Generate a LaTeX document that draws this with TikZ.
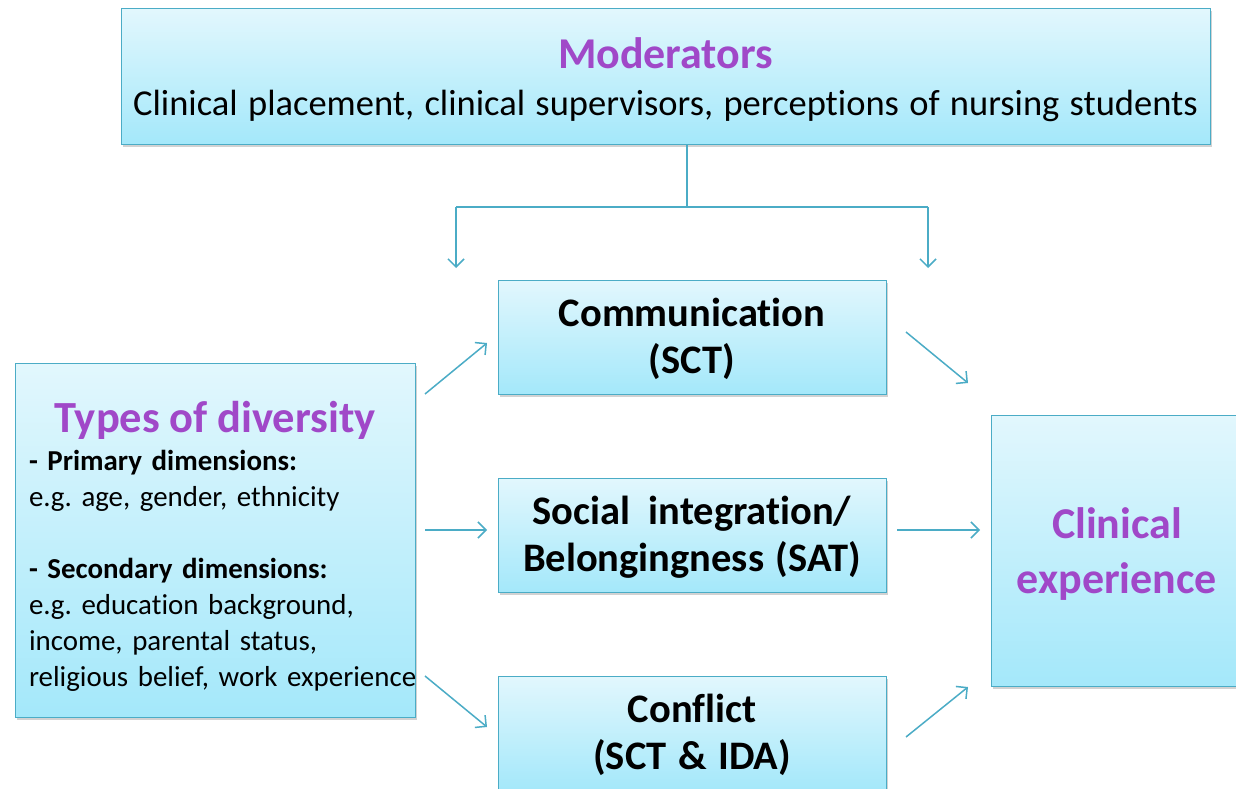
\documentclass[tikz,border=0pt]{standalone}
\usepackage{fontspec}
\setmainfont{Carlito}[WordSpace=1.25,Ligatures=NoCommon]
\usetikzlibrary{arrows.meta,shadows}

\definecolor{boxedge}{RGB}{75,172,198}
\definecolor{boxtop}{RGB}{226,247,253}
\definecolor{boxbottom}{RGB}{164,232,250}
\definecolor{purp}{RGB}{160,72,200}

\tikzset{
  panel/.style={draw=boxedge, line width=1pt, top color=boxtop, bottom color=boxbottom,
    drop shadow={shadow xshift=2pt, shadow yshift=-2.5pt, opacity=0.35},
    inner sep=0pt, align=center},
  midbox/.style={panel, minimum width=388pt, minimum height=114pt, text depth=3pt,
    font=\fontsize{40.5}{47}\selectfont\bfseries},
  link/.style={draw=boxedge, line width=1.5pt, -{Straight Barb[length=8pt,width=16pt]}}
}

\begin{document}
\frenchspacing
\begin{tikzpicture}[x=1pt,y=-1pt]
        \useasboundingbox (0,0) rectangle (1236,789);
        \fill[white] (0,0) rectangle (1236,789);
        % boxes
        \node[panel, minimum width=1089pt, minimum height=135pt, text depth=-4pt,
              font=\fontsize{36.5}{47}\selectfont] (mod) at (665.5,76.5)
          {{\fontsize{44}{47}\selectfont\bfseries\color{purp}Moderators}\\
           Clinical placement, clinical supervisors, perceptions of nursing students};
        \node[panel, minimum width=399pt, minimum height=354pt, inner xsep=14pt, text width=372pt,
              align=left, font=\fontsize{28.9}{36}\selectfont] (types) at (215,540)
          {\makebox[372pt][c]{\rule{0pt}{44pt}\fontsize{44.5}{47}\selectfont\bfseries\color{purp}Types of diversity}\\[2.5pt]
           \textbf{- Primary dimensions:}\\
           e.g. age, gender, ethnicity\\[36pt]
           \textbf{- Secondary dimensions:}\\
           e.g. education background,\\
           income, parental status,\\
           \mbox{religious belief, work experience}};
        \node[midbox] (comm) at (692,337) {Communication\\(SCT)};
        \node[midbox] (soc) at (692,535) {Social\, integration/\\Belongingness (SAT)};
        \node[midbox] (conf) at (692,733) {Conflict\\(SCT \& IDA)};
        \node[panel, minimum width=252pt, minimum height=271pt, text depth=0pt,
              font=\fontsize{44}{55}\selectfont\bfseries\color{purp}] (clin) at (1117,550.5)
          {Clinical\\experience};
        % moderator links
        \coordinate (split) at (687,207);
        \coordinate (left) at (456,207);
        \coordinate (right) at (928,207);
        \coordinate (lefttip) at (456,268);
        \coordinate (righttip) at (928,268);
        \draw[draw=boxedge, line width=1.5pt] (mod.south -| split) -- (split);
        \draw[draw=boxedge, line width=1.5pt] (left) -- (right);
        \draw[link] (left) -- (lefttip);
        \draw[link] (right) -- (righttip);
        % types to mediators
        \coordinate (a1) at (425,394);
        \coordinate (b1) at (487,343);
        \coordinate (a2) at (425,530);
        \coordinate (b2) at (487,530);
        \coordinate (a3) at (425,676);
        \coordinate (b3) at (487,727);
        \draw[link] (a1) -- (b1);
        \draw[link] (a2) -- (b2);
        \draw[link] (a3) -- (b3);
        % mediators to experience
        \coordinate (c1) at (906,332);
        \coordinate (d1) at (968,383);
        \coordinate (c2) at (897,530);
        \coordinate (d2) at (980,530);
        \coordinate (c3) at (906,737);
        \coordinate (d3) at (968,687);
        \draw[link] (c1) -- (d1);
        \draw[link] (c2) -- (d2);
        \draw[link] (c3) -- (d3);
\end{tikzpicture}
\end{document}
